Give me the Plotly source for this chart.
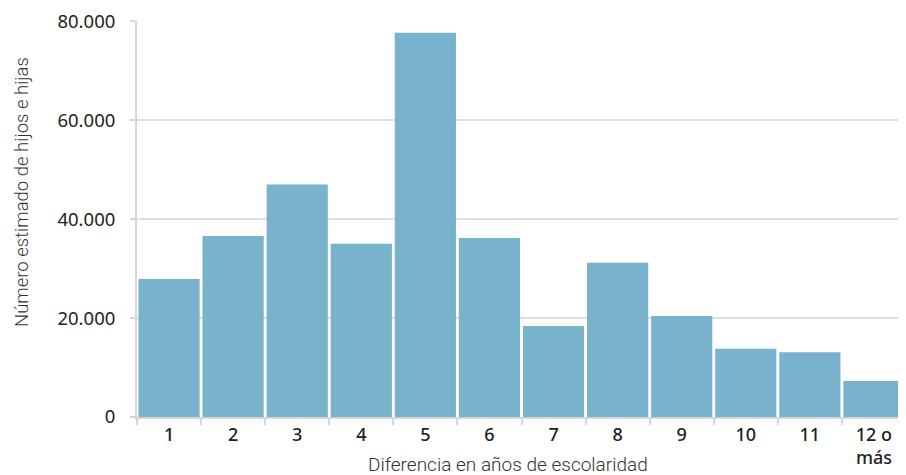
import plotly.graph_objects as go

categories = ["1", "2", "3", "4", "5", "6", "7", "8", "9", "10", "11", "12 o<br>más"]
values = [27900, 36600, 47000, 35000, 77700, 36200, 18400, 31200, 20400, 13800, 13100, 7300]
y_ticks = [0, 20000, 40000, 60000, 80000]

x_title = "Diferencia en años de escolaridad"
y_title = "Número estimado de hijos e hijas"

# The page body has an 8px margin, so the figure is sized to fill the rest of the window.
W, H = 898, 467
L, R, T, B = 129, 0, 13, 58
plot_w = W - L - R
plot_h = H - T - B

fig = go.Figure(
    go.Bar(
        x=categories,
        y=values,
        marker=dict(color="#79b2cc", line=dict(width=0)),
        hoverinfo="x+y",
    )
)

title_font = dict(size=18.5, family="Roboto", weight=300, color="#333")

fig.update_layout(
    width=W,
    height=H,
    margin=dict(l=L, r=R, t=T, b=B, autoexpand=False),
    paper_bgcolor="white",
    plot_bgcolor="white",
    bargap=0.045,
    separators=",.",
    showlegend=False,
    font=dict(family="Roboto, 'Noto Sans', sans-serif", color="#333"),
    annotations=[
        dict(
            text=x_title, xref="paper", x=(500 - L) / plot_w,
            yref="paper", y=((H - B) - 457) / plot_h,
            xanchor="center", yanchor="middle",
            showarrow=False, font=dict(title_font, size=19),
        ),
        dict(
            text=y_title, xref="paper", x=(14 - L) / plot_w,
            yref="paper", y=((H - B) - 184) / plot_h,
            xanchor="center", yanchor="middle",
            showarrow=False, textangle=-90, font=title_font,
        ),
    ],
)

fig.update_xaxes(
    type="category",
    tickson="boundaries",
    ticks="outside",
    ticklen=6,
    tickwidth=1.5,
    tickcolor="#d6d6d6",
    showline=True,
    linecolor="#d6d6d6",
    linewidth=2,
    showgrid=False,
    automargin=False,
    ticklabeloverflow="allow",
    tickfont=dict(size=18, family="'Noto Sans', sans-serif", weight=500, color="#222"),
    range=[-0.5, 11.5],
)
fig.update_yaxes(
    range=[0, 80050],
    tickvals=y_ticks,
    tickformat=",d",
    ticks="outside",
    ticklen=5,
    tickcolor="#d6d6d6",
    tickwidth=1.5,
    showline=True,
    linecolor="#d6d6d6",
    linewidth=2,
    showgrid=True,
    gridcolor="#dedede",
    gridwidth=1.5,
    zeroline=False,
    automargin=False,
    ticklabeloverflow="allow",
    ticklabelstandoff=11,
    tickfont=dict(size=18.5, family="'Noto Sans', sans-serif", color="#222"),
)

fig.write_html("out.html")
